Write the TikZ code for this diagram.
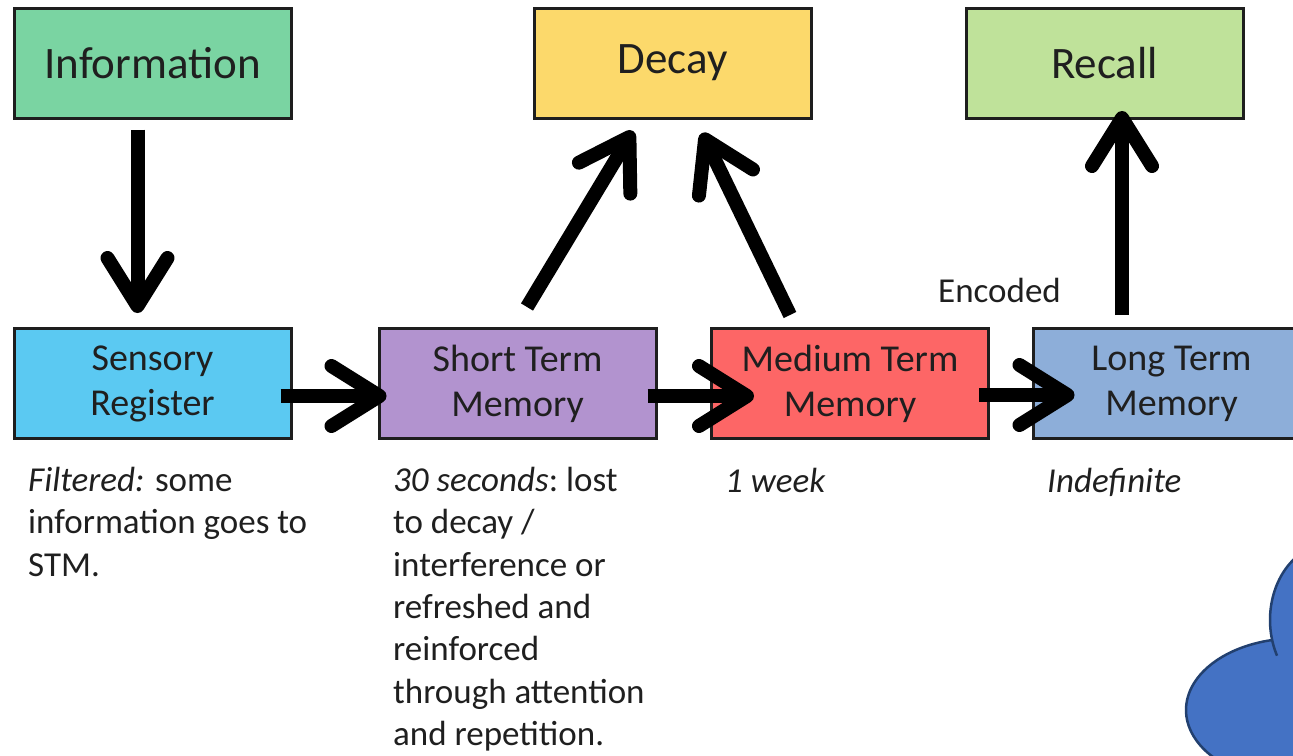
\documentclass[tikz,border=0pt]{standalone}
\usepackage{fontspec}
\setmainfont{Carlito}
\usetikzlibrary{arrows.meta}
\definecolor{cinfo}{HTML}{7AD4A2}
\definecolor{cdecay}{HTML}{FCD96B}
\definecolor{crecall}{HTML}{BFE29A}
\definecolor{csens}{HTML}{5BC9F2}
\definecolor{cstm}{HTML}{B293CF}
\definecolor{cmtm}{HTML}{FD6666}
\definecolor{cltm}{HTML}{8DAED9}
\definecolor{boxline}{HTML}{1E1E1E}
\definecolor{txt}{HTML}{1F1F1F}
\definecolor{cloudfill}{HTML}{4472C4}
\definecolor{cloudline}{HTML}{22406F}
\begin{document}
\begin{tikzpicture}[x=1pt,y=-1pt,
  box/.style={draw=boxline, line width=3pt, minimum width=277pt, minimum height=110pt, inner sep=0pt, align=center, text=txt},
  topbox/.style={box, font=\fontsize{45}{54}\selectfont},
  midbox/.style={box, font=\fontsize{38}{45}\selectfont},
  note/.style={inner sep=0pt, align=left, text=txt, font=\fontsize{35}{42.3}\selectfont},
  arr/.style={draw=black, line width=14pt, -{Straight Barb[length=48pt, width=60pt, round]}},
  cloudedge/.style={draw=cloudline, line width=2.5pt}
]
\useasboundingbox (0,0) rectangle (1293,755);

% cloud (partly outside the picture)
\begin{scope}
  \clip (0,0) rectangle (1293,755);
  \fill[cloudfill] (1330,620) ellipse [x radius=60, y radius=76];
  \fill[cloudfill] (1296,710) ellipse [x radius=110, y radius=71.7];
  \draw[cloudedge] plot[domain=152:300, samples=60, smooth] ({1330+60*cos(\x)},{620+76*sin(\x)});
  \draw[cloudedge] plot[domain=100:257.4, samples=60, smooth] ({1296+110*cos(\x)},{710+71.7*sin(\x)});
\end{scope}

% boxes
\node[topbox, fill=cinfo]   (info)   at (152.5,63) {Information};
\node[topbox, fill=cdecay]  (decay)  at (672.5,63) {Decay};
\node[topbox, fill=crecall] (recall) at (1104.5,63) {Recall};

\node[midbox, fill=csens] (sens) at (152.5,383.5) {Sensory\\Register};
\node[midbox, fill=cstm]  (stm)  at (517.5,383.5) {Short Term\\Memory};
\node[midbox, fill=cmtm]  (mtm)  at (850,383.5)   {Medium Term\\Memory};
\node[midbox, fill=cltm]  (ltm)  at (1171.5,383.5) {Long Term\\Memory};

% notes
\node[note, anchor=north west] (filt) at (28,467) {{\itshape Filtered:} some\\information goes to\\STM.};
\node[note, anchor=north west] (stmnote) at (393,467) {{\itshape 30 seconds}:\ lost\\to decay /\\interference or\\refreshed and\\reinforced\\through attention\\and repetition.};
\node[note, anchor=base west] (week) at (725,492) {\textit{1 week}};
\node[note, anchor=base west] (indef) at (1047,492) {\textit{Indefinite}};
\node[note, anchor=base west] (enc) at (938,302) {Encoded};

% connectors
\draw[arr] ([xshift=-15pt,yshift=-10pt]info.south) -- ([xshift=-15pt,yshift=14pt]sens.north);
\draw[arr] ([xshift=-12pt,yshift=-12.5pt]sens.east) -- ([xshift=9pt,yshift=-12.5pt]stm.west);
\draw[arr] ([xshift=-10pt,yshift=-12.5pt]stm.east) -- ([xshift=44pt,yshift=-12.5pt]mtm.west);
\draw[arr] ([xshift=-11pt,yshift=-11.5pt]mtm.east) -- ([xshift=43pt,yshift=-11.5pt]ltm.west);
\draw[arr] ([xshift=9.5pt,yshift=20pt]stm.north) -- ([xshift=-39.5pt,yshift=-11.5pt]decay.south);
\draw[arr] ([xshift=-60pt,yshift=12pt]mtm.north) -- ([xshift=29.5pt,yshift=-13.5pt]decay.south);
\draw[arr] ([xshift=-49.5pt,yshift=12pt]ltm.north) -- ([xshift=17.5pt,yshift=8.5pt]recall.south);
\end{tikzpicture}
\end{document}
